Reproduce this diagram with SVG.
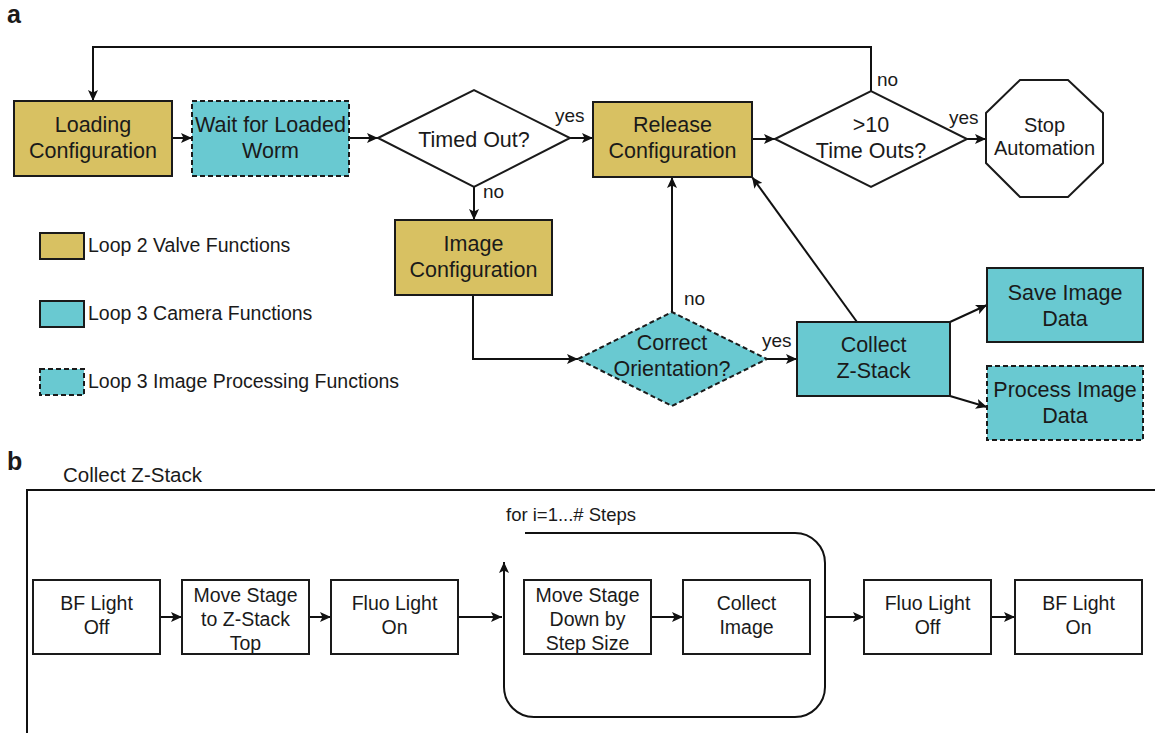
<svg xmlns="http://www.w3.org/2000/svg" width="1155" height="733" viewBox="0 0 1155 733">
  <defs>
    <marker id="arrow" markerUnits="userSpaceOnUse" markerWidth="12" markerHeight="10" refX="11" refY="5" orient="auto">
      <path d="M0,0 L11,5 L0,10 L2.5,5 z" fill="#111"/>
    </marker>
    <style>
      text { font-family: "Liberation Sans", Arial, Helvetica, sans-serif; fill: #1a1a1a; }
      .lbl { font-size: 21.5px; text-anchor: middle; }
      .lblb { font-size: 19.5px; text-anchor: middle; }
      .leg { font-size: 19.5px; }
      .yn { font-size: 19px; }
      .panel { font-size: 25px; font-weight: bold; }
      .valve { fill: #d8c162; stroke: #1a1a1a; stroke-width: 2; }
      .cam { fill: #69c9d1; stroke: #1a1a1a; stroke-width: 2; }
      .proc { fill: #69c9d1; stroke: #1a1a1a; stroke-width: 2; stroke-dasharray: 5 3; }
      .plain { fill: #fff; stroke: #1a1a1a; stroke-width: 2; }
      .conn { fill: none; stroke: #111; stroke-width: 2; }
      .arr { fill: none; stroke: #111; stroke-width: 2; marker-end: url(#arrow); }
    </style>
  </defs>
  <rect width="1155" height="733" fill="#fff"/>

  <!-- panel letters -->
  <text class="panel" x="7" y="23">a</text>
  <text class="panel" x="7" y="470">b</text>

  <!-- ===== panel a: connectors ===== -->
  <g id="connectors-a">
    <line class="arr" x1="172" y1="138" x2="192" y2="138"/>
    <line class="arr" x1="349" y1="138" x2="378" y2="138"/>
    <line class="arr" x1="570" y1="138" x2="593" y2="138"/>
    <line class="arr" x1="752" y1="139" x2="775" y2="139"/>
    <line class="arr" x1="967" y1="139" x2="986" y2="139"/>
    <path class="arr" d="M871,91 V47 H93 V101"/>
    <line class="arr" x1="474" y1="187" x2="474" y2="220"/>
    <path class="arr" d="M473,295 V359 H578"/>
    <line class="arr" x1="672" y1="312" x2="672" y2="177"/>
    <line class="arr" x1="767" y1="359" x2="797" y2="359"/>
    <line class="arr" x1="857" y1="322" x2="752" y2="177"/>
    <line class="arr" x1="950" y1="322" x2="987" y2="305"/>
    <line class="arr" x1="950" y1="396" x2="987" y2="407"/>
    <text class="yn" x="555" y="122">yes</text>
    <text class="yn" x="483" y="198">no</text>
    <text class="yn" x="877" y="86">no</text>
    <text class="yn" x="949" y="124">yes</text>
    <text class="yn" x="684" y="305">no</text>
    <text class="yn" x="762" y="347">yes</text>
  </g>

  <!-- ===== panel a: nodes ===== -->
  <g id="loading-configuration">
    <rect class="valve" x="14" y="101" width="158" height="75"/>
    <text class="lbl" x="93" y="132">Loading</text>
    <text class="lbl" x="93" y="158">Configuration</text>
  </g>
  <g id="wait-for-loaded-worm">
    <rect class="proc" x="192" y="101" width="157" height="75"/>
    <text class="lbl" x="270.5" y="132">Wait for Loaded</text>
    <text class="lbl" x="270.5" y="158">Worm</text>
  </g>
  <g id="timed-out">
    <polygon class="plain" points="378,138 474,90 570,138 474,187"/>
    <text class="lbl" x="474" y="147">Timed Out?</text>
  </g>
  <g id="release-configuration">
    <rect class="valve" x="593" y="102" width="159" height="75"/>
    <text class="lbl" x="672.5" y="132">Release</text>
    <text class="lbl" x="672.5" y="158">Configuration</text>
  </g>
  <g id="time-outs">
    <polygon class="plain" points="775,139 871,91 967,139 871,187"/>
    <text class="lbl" x="871" y="132">&gt;10</text>
    <text class="lbl" x="871" y="158">Time Outs?</text>
  </g>
  <g id="stop-automation">
    <polygon class="plain" points="1020,80 1068,80 1103,113 1103,163 1068,197 1020,197 986,163 986,113"/>
    <text class="lbl" x="1044.5" y="132" style="font-size:20px">Stop</text>
    <text class="lbl" x="1044.5" y="155" style="font-size:20px">Automation</text>
  </g>
  <g id="image-configuration">
    <rect class="valve" x="395" y="220" width="157" height="75"/>
    <text class="lbl" x="473.5" y="251">Image</text>
    <text class="lbl" x="473.5" y="277">Configuration</text>
  </g>
  <g id="correct-orientation">
    <polygon class="proc" points="578,359 672,312 767,359 672,406"/>
    <text class="lbl" x="672" y="350">Correct</text>
    <text class="lbl" x="672" y="376">Orientation?</text>
  </g>
  <g id="collect-z-stack">
    <rect class="cam" x="797" y="322" width="153" height="74"/>
    <text class="lbl" x="873.5" y="352">Collect</text>
    <text class="lbl" x="873.5" y="378">Z-Stack</text>
  </g>
  <g id="save-image-data">
    <rect class="cam" x="987" y="268" width="156" height="74"/>
    <text class="lbl" x="1065" y="300">Save Image</text>
    <text class="lbl" x="1065" y="326">Data</text>
  </g>
  <g id="process-image-data">
    <rect class="proc" x="987" y="366" width="156" height="74"/>
    <text class="lbl" x="1065" y="397">Process Image</text>
    <text class="lbl" x="1065" y="423">Data</text>
  </g>

  <!-- legend -->
  <g id="legend">
    <rect class="valve" x="40" y="233" width="44" height="26"/>
    <text class="leg" x="88" y="252">Loop 2 Valve Functions</text>
    <rect class="cam" x="40" y="301" width="44" height="26"/>
    <text class="leg" x="88" y="320">Loop 3 Camera Functions</text>
    <rect class="proc" x="40" y="369" width="44" height="26"/>
    <text class="leg" x="88" y="388">Loop 3 Image Processing Functions</text>
  </g>

  <!-- ===== panel b ===== -->
  <g id="collect-z-stack-frame">
    <text x="63" y="482" style="font-size:20.5px">Collect Z-Stack</text>
    <path class="conn" d="M1155,490 H27 V733"/>
  </g>

  <g id="connectors-b">
    <line class="arr" x1="160" y1="617" x2="182" y2="617"/>
    <line class="arr" x1="309" y1="617" x2="331" y2="617"/>
    <line class="arr" x1="458" y1="617" x2="502" y2="617"/>
    <line class="arr" x1="651" y1="617" x2="683" y2="617"/>
    <line class="arr" x1="825" y1="617" x2="864" y2="617"/>
    <line class="arr" x1="991" y1="617" x2="1015" y2="617"/>
    <!-- step loop -->
    <path class="arr" d="M525,533 H795 A30,30 0 0 1 825,563 V687 A30,30 0 0 1 795,717 H534 A30,30 0 0 1 504,687 V562"/>
    <text x="506" y="521" style="font-size:18.5px">for i=1...# Steps</text>
  </g>

  <g id="bf-light-off">
    <rect class="plain" x="33" y="580" width="127" height="74"/>
    <text class="lblb" x="96.5" y="610">BF Light</text>
    <text class="lblb" x="96.5" y="634">Off</text>
  </g>
  <g id="move-stage-top">
    <rect class="plain" x="182" y="580" width="127" height="74"/>
    <text class="lblb" x="245.5" y="602">Move Stage</text>
    <text class="lblb" x="245.5" y="626">to Z-Stack</text>
    <text class="lblb" x="245.5" y="650">Top</text>
  </g>
  <g id="fluo-light-on">
    <rect class="plain" x="331" y="580" width="127" height="74"/>
    <text class="lblb" x="394.5" y="610">Fluo Light</text>
    <text class="lblb" x="394.5" y="634">On</text>
  </g>
  <g id="move-stage-down">
    <rect class="plain" x="524" y="580" width="127" height="74"/>
    <text class="lblb" x="587.5" y="602">Move Stage</text>
    <text class="lblb" x="587.5" y="626">Down by</text>
    <text class="lblb" x="587.5" y="650">Step Size</text>
  </g>
  <g id="collect-image">
    <rect class="plain" x="683" y="580" width="127" height="74"/>
    <text class="lblb" x="746.5" y="610">Collect</text>
    <text class="lblb" x="746.5" y="634">Image</text>
  </g>
  <g id="fluo-light-off">
    <rect class="plain" x="864" y="580" width="127" height="74"/>
    <text class="lblb" x="927.5" y="610">Fluo Light</text>
    <text class="lblb" x="927.5" y="634">Off</text>
  </g>
  <g id="bf-light-on">
    <rect class="plain" x="1015" y="580" width="127" height="74"/>
    <text class="lblb" x="1078.5" y="610">BF Light</text>
    <text class="lblb" x="1078.5" y="634">On</text>
  </g>
</svg>
